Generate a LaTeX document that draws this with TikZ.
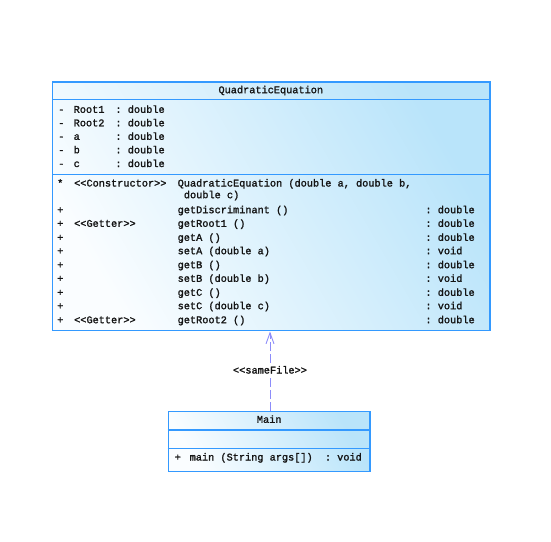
\documentclass[tikz,border=0pt]{standalone}
\usepackage{fontspec}
\setmonofont[FakeBold=1.6]{Liberation Mono}
\usetikzlibrary{arrows.meta}
\definecolor{bordercol}{RGB}{51,153,255}
\definecolor{fillA}{RGB}{250,253,255}
\definecolor{fillB}{RGB}{185,228,250}
\definecolor{arrowcol}{RGB}{140,140,250}
\definecolor{txt}{RGB}{20,20,20}
\newcommand{\umlfnt}{\ttfamily\fontsize{10.25}{12}\selectfont}
\begin{document}
\begin{tikzpicture}[x=1pt,y=-1pt,
  classbox/.style={draw=bordercol, line width=1.2pt, inner sep=0pt, left color=fillA, right color=fillB, shading angle=120},
  divider/.style={draw=bordercol, line width=1.2pt},
  t/.style={anchor=west, inner sep=0pt, text height=7pt, text depth=2pt, font=\umlfnt, text=txt},
  tc/.style={t, anchor=center},
  dep/.style={draw=arrowcol, line width=0.9pt, dash pattern=on 9pt off 3pt, -{Straight Barb[length=11pt,width=8pt]}}]
\useasboundingbox (0,0) rectangle (551,541);
% boxes
\node[classbox, minimum width=437.3pt, minimum height=248.7pt] (qe) at (271.35,206.35) {};
\node[classbox, minimum width=201.7pt, minimum height=60pt] (main) at (269.15,441.7) {};
\coordinate (qd1) at (0,99.7);
\coordinate (qd2) at (0,174.3);
\coordinate (md1) at (0,430);
\coordinate (md2) at (0,448.5);
\draw[divider] (qe.west |- qd1) -- (qe.east |- qd1);
\draw[divider] (qe.west |- qd2) -- (qe.east |- qd2);
\draw[divider] (main.west |- md1) -- (main.east |- md1);
\draw[divider] (main.west |- md2) -- (main.east |- md2);
% titles
\node[tc] (qetitle) at (270.8,90.7) {QuadraticEquation};
\node[tc] (maintitle) at (269.2,420.3) {Main};
% attributes
\node[t] (a1v) at (58,110.3) {-};
\node[t] (a1n) at (73.5,110.3) {Root1};
\node[t] (a1t) at (115.3,110.3) {: double};
\node[t] (a2v) at (58,123.8) {-};
\node[t] (a2n) at (73.5,123.8) {Root2};
\node[t] (a2t) at (115.3,123.8) {: double};
\node[t] (a3v) at (58,137.3) {-};
\node[t] (a3n) at (73.5,137.3) {a};
\node[t] (a3t) at (115.3,137.3) {: double};
\node[t] (a4v) at (58,150.8) {-};
\node[t] (a4n) at (73.5,150.8) {b};
\node[t] (a4t) at (115.3,150.8) {: double};
\node[t] (a5v) at (58,164.5) {-};
\node[t] (a5n) at (73.5,164.5) {c};
\node[t] (a5t) at (115.3,164.5) {: double};
% methods
\node[t] (m0v) at (57,184) {*};
\node[t] (m0s) at (74,184) {<{}<Constructor>{}>};
\node[t] (m0n) at (177.5,184) {QuadraticEquation (double a, double b,};
\node[t] (m0c) at (183.7,195.7) {double c)};
\node[t] (m1v) at (57,210.7) {+};
\node[t] (m1n) at (177.5,210.7) {getDiscriminant ()};
\node[t] (m1t) at (425.3,210.7) {: double};
\node[t] (m2v) at (57,224.3) {+};
\node[t] (m2s) at (74,224.3) {<{}<Getter>{}>};
\node[t] (m2n) at (177.5,224.3) {getRoot1 ()};
\node[t] (m2t) at (425.3,224.3) {: double};
\node[t] (m3v) at (57,238.3) {+};
\node[t] (m3n) at (177.5,238.3) {getA ()};
\node[t] (m3t) at (425.3,238.3) {: double};
\node[t] (m4v) at (57,251.7) {+};
\node[t] (m4n) at (177.5,251.7) {setA (double a)};
\node[t] (m4t) at (425.3,251.7) {: void};
\node[t] (m5v) at (57,265.7) {+};
\node[t] (m5n) at (177.5,265.7) {getB ()};
\node[t] (m5t) at (425.3,265.7) {: double};
\node[t] (m6v) at (57,279.3) {+};
\node[t] (m6n) at (177.5,279.3) {setB (double b)};
\node[t] (m6t) at (425.3,279.3) {: void};
\node[t] (m7v) at (57,293.3) {+};
\node[t] (m7n) at (177.5,293.3) {getC ()};
\node[t] (m7t) at (425.3,293.3) {: double};
\node[t] (m8v) at (57,306.7) {+};
\node[t] (m8n) at (177.5,306.7) {setC (double c)};
\node[t] (m8t) at (425.3,306.7) {: void};
\node[t] (m9v) at (57,320.7) {+};
\node[t] (m9s) at (74,320.7) {<{}<Getter>{}>};
\node[t] (m9n) at (177.5,320.7) {getRoot2 ()};
\node[t] (m9t) at (425.3,320.7) {: double};
% Main method
\node[t] (mmv) at (174.5,458) {+};
\node[t] (mmn) at (189.5,458) {main (String args[])};
\node[t] (mmt) at (324.7,458) {: void};
% dependency
\coordinate (arrtop) at (270,331.5);
\coordinate (arrbot) at (270,411);
\draw[dep] (arrbot) -- (arrtop);
\node[tc, fill=white, inner sep=1pt] (lbl) at (270,371) {<{}<sameFile>{}>};
\end{tikzpicture}
\end{document}
